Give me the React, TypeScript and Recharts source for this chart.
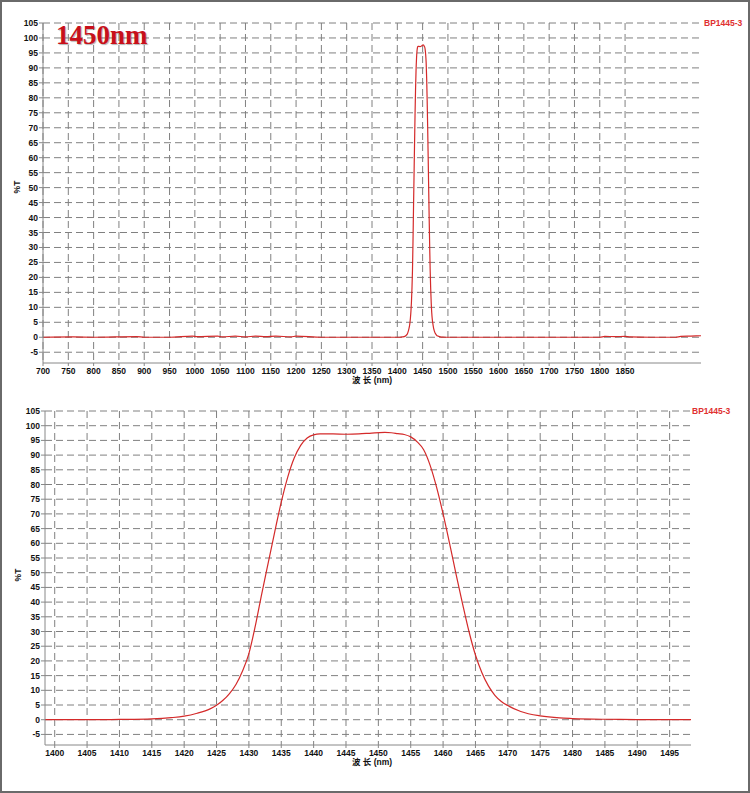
import React from "react";
import { LineChart, Line, XAxis, YAxis, CartesianGrid } from "recharts";

// transmission of the band-pass filter
const peakWl = [
  1398.5, 1405, 1410, 1415, 1418, 1420, 1422, 1424, 1425, 1426, 1427, 1428, 1429, 1430,
  1431, 1432, 1433, 1434, 1435, 1436, 1437, 1438, 1439, 1440, 1441, 1443, 1445, 1447,
  1449, 1451, 1452, 1453, 1454, 1455, 1456, 1457, 1458, 1459, 1460, 1461, 1462, 1463,
  1464, 1465, 1466, 1467, 1468, 1469, 1470, 1472, 1475, 1478, 1480, 1485, 1490, 1495, 1498.5,
];
const peakT = [
  0, 0, 0.1, 0.3, 0.7, 1.2, 2.2, 3.7, 4.9, 6.6, 8.9, 12, 16.5, 22.5,
  32, 43, 53.5, 64, 74, 82.5, 89, 93.3, 95.8, 96.9, 97.2, 97.2, 97.1, 97.2,
  97.5, 97.7, 97.6, 97.3, 97, 96.2, 94.5, 91.8, 86.5, 79, 70, 60, 49.5, 39.5,
  30, 22, 16, 11.5, 8.3, 6.2, 4.8, 2.8, 1.3, 0.6, 0.4, 0.15, 0.05, 0, 0,
];

// wide scan baseline outside the pass band
const lowWl = [700, 760, 800, 885, 900, 950, 995, 1005, 1045, 1055, 1080, 1100, 1120, 1140, 1160, 1190, 1200, 1250, 1300, 1350, 1390];
const lowT = [0, 0.1, 0, 0.2, 0, 0, 0.4, 0.2, 0.4, 0.1, 0.4, 0.1, 0.4, 0.2, 0.4, 0.1, 0.4, 0, 0, 0, 0];
const highWl = [1500, 1550, 1600, 1650, 1700, 1750, 1800, 1810, 1830, 1850, 1860, 1900, 1950, 1960, 1980, 2000];
const highT = [0, 0, 0, 0, 0, 0, 0, 0.3, 0.2, 0.3, 0.1, 0, 0, 0.3, 0.4, 0.5];

const yTicks = [-5, 0, 5, 10, 15, 20, 25, 30, 35, 40, 45, 50, 55, 60, 65, 70, 75, 80, 85, 90, 95, 100, 105];
const wideTicks = [
  700, 750, 800, 850, 900, 950, 1000, 1050, 1100, 1150, 1200, 1250, 1300, 1350, 1400,
  1450, 1500, 1550, 1600, 1650, 1700, 1750, 1800, 1850,
];
const zoomTicks = [
  1400, 1405, 1410, 1415, 1420, 1425, 1430, 1435, 1440, 1445, 1450, 1455, 1460, 1465,
  1470, 1475, 1480, 1485, 1490, 1495,
];

const zoomData = peakWl.map((wl, i) => ({ wl, t: peakT[i] }));
const wideData = [
  ...lowWl.map((wl, i) => ({ wl, t: lowT[i] })),
  ...zoomData,
  ...highWl.map((wl, i) => ({ wl, t: highT[i] })),
];

const tickStyle = {
  fontSize: 8.5,
  fontWeight: 700,
  fontFamily: "'Liberation Sans', Arial, sans-serif",
  fill: "#111",
};
const red = "#d42a2a";

function Overlay({ x, y, text, style }: { x: number; y: number; text: string; style?: React.CSSProperties }) {
  return (
    <div style={{ position: "absolute", left: x, top: y, lineHeight: 1, whiteSpace: "nowrap", ...style }}>
      {text}
    </div>
  );
}

const axisLabel: React.CSSProperties = {
  fontSize: 8.5,
  fontFamily: "'Liberation Sans', 'Noto Sans CJK SC', sans-serif",
  color: "#111",
  fontWeight: 700,
};

function Spectrum({
  data,
  domain,
  ticks,
  width,
  height,
  margin,
  yWidth,
  xHeight,
}: {
  data: { wl: number; t: number }[];
  domain: [number, number];
  ticks: number[];
  width: number;
  height: number;
  margin: { top: number; right: number; left: number; bottom: number };
  yWidth: number;
  xHeight: number;
}) {
  return (
    <LineChart width={width} height={height} data={data} margin={margin}>
      <CartesianGrid stroke="#808080" strokeDasharray="7 4" syncWithTicks />
      <XAxis
        type="number"
        dataKey="wl"
        domain={domain}
        ticks={ticks}
        interval={0}
        allowDataOverflow
        height={xHeight}
        tick={tickStyle}
        tickSize={3}
        tickMargin={2}
        stroke="#888"
      />
      <YAxis
        type="number"
        domain={[-8.6, 105]}
        ticks={yTicks}
        interval={0}
        allowDataOverflow
        width={yWidth}
        tick={tickStyle}
        tickSize={4}
        tickMargin={1}
        stroke="#888"
      />
      <Line
        type="monotone"
        dataKey="t"
        stroke={red}
        strokeWidth={1.2}
        dot={false}
        isAnimationActive={false}
      />
    </LineChart>
  );
}

export default function App() {
  return (
    <div style={{ position: "absolute", left: 0, top: 0, width: 750, height: 793, background: "#fff", overflow: "hidden" }}>
      <div style={{ position: "absolute", left: 0, top: 0 }}>
        <Spectrum
          data={wideData}
          domain={[700, 2000]}
          ticks={wideTicks}
          width={750}
          height={395}
          margin={{ top: 23, right: 49, left: 0, bottom: 0 }}
          yWidth={43}
          xHeight={32}
        />
      </div>
      <div style={{ position: "absolute", left: 0, top: 395 }}>
        <Spectrum
          data={zoomData}
          domain={[1398.5, 1498.3]}
          ticks={zoomTicks}
          width={750}
          height={398}
          margin={{ top: 16, right: 59, left: 0, bottom: 0 }}
          yWidth={45}
          xHeight={48}
        />
      </div>

      <Overlay
        x={56}
        y={22}
        text="1450nm"
        style={{
          fontSize: 27,
          fontWeight: 700,
          fontFamily: "'Liberation Serif', 'Times New Roman', serif",
          color: "#c8101a",
          textShadow: "1px 1px 1px rgba(0,0,0,0.3)",
        }}
      />
      <Overlay x={704} y={19} text="BP1445-3" style={{ ...axisLabel, color: "#e03030" }} />
      <Overlay x={692} y={407} text="BP1445-3" style={{ ...axisLabel, color: "#e03030" }} />

      <Overlay x={17} y={187} text="%T" style={{ ...axisLabel, transform: "translate(-50%, -50%) rotate(-90deg)" }} />
      <Overlay x={18} y={575} text="%T" style={{ ...axisLabel, transform: "translate(-50%, -50%) rotate(-90deg)" }} />
      <Overlay x={372} y={380} text="波 长 (nm)" style={{ ...axisLabel, transform: "translate(-50%, -50%)" }} />
      <Overlay x={372} y={762} text="波 长 (nm)" style={{ ...axisLabel, transform: "translate(-50%, -50%)" }} />

      <div
        style={{
          position: "absolute",
          left: 0,
          top: 0,
          width: 750,
          height: 793,
          boxSizing: "border-box",
          border: "2px solid #6a6a6a",
          pointerEvents: "none",
        }}
      />
    </div>
  );
}
